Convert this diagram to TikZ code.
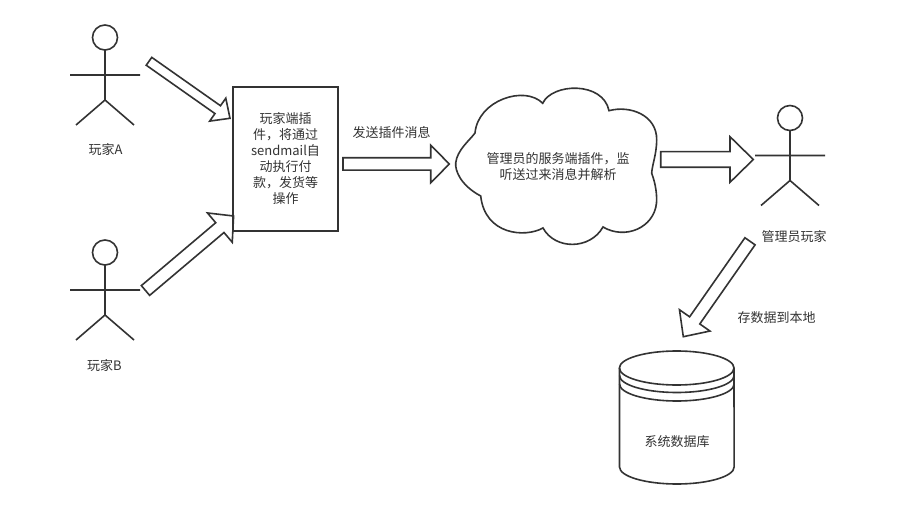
\documentclass[tikz,border=0pt]{standalone}
\usepackage{fontspec}
\usepackage{xcolor}
\setmainfont{Noto Sans CJK SC}
\usepackage{tikz}
\usetikzlibrary{calc}
\definecolor{inkgray}{HTML}{333333}

\tikzset{
sketch/.style={draw=inkgray, line width=1.6pt, line join=miter},
flow/.style={sketch, fill=white},
caption/.style={text=inkgray, font=\fontsize{13}{16}\selectfont, align=center, inner sep=0pt},
actor/.pic={
\draw[sketch] (0,0)circle(12.5);
\draw[sketch] (0,12.5)--(0,62.5)
(-35,37.5)--(35,37.5)
(-29,87.5)--(0,62.5)--(29,87.5);
}
}

\newcommand{\blockarrow}[5]{
\coordinate (neck) at ($(#5)!#3pt!(#4)$);
\draw[flow] ($(#4)!#1pt!90:(#5)$)--($(neck)!#1pt!90:(#5)$)--($(neck)!#2pt!90:(#5)$)
--(#5)--($(neck)!#2pt!-90:(#5)$)--($(neck)!#1pt!-90:(#5)$)--($(#4)!#1pt!-90:(#5)$)--cycle;
}

\begin{document}
\begin{tikzpicture}[x=1pt,y=-1pt]
\useasboundingbox[fill=white] (0,0)rectangle(899,510);

\pic at (105,37.5) {actor};
\node[caption] (playerA) at (105.5,150) {玩家A};
\pic at (105,252.5) {actor};
\node[caption] (playerB) at (104.5,366) {玩家B};
\pic at (790,118) {actor};
\node[caption] (adminPlayer) at (794,237) {管理员玩家};

\node[caption] (sendLabel) at (391.5,133) {发送插件消息};

% cloud
\draw[sketch] (475,133)
.. controls (478,100) and (525,85) .. (542.7,103.3)
.. controls (552,83) and (603,81) .. (609,110.7)
.. controls (630,105) and (657,115) .. (656.7,140)
.. controls (656.5,155) and (652,165) .. (651.7,173.3)
.. controls (656,185) and (657,195) .. (656.5,203)
.. controls (654,228) and (625,240) .. (603,227)
.. controls (590,250) and (555,250) .. (543,228)
.. controls (525,238) and (485,235) .. (480.7,196)
.. controls (460,185) and (455,170) .. (455.7,163)
.. controls (457,150) and (470,140) .. (475,133)--cycle;
\node[caption] (listener) at (558,167) {管理员的服务端插件，监\\听送过来消息并解析};

% database
\draw[sketch] (676.7,368)ellipse(57.3 and 17);
\draw[sketch] (619.5,368)--(619.5,467) arc[start angle=180,end angle=0,x radius=57.3,y radius=17]--(734,368);
\draw[sketch] (619.5,375.5) arc[start angle=180,end angle=0,x radius=57.3,y radius=17];
\draw[sketch] (619.5,384) arc[start angle=180,end angle=0,x radius=57.3,y radius=17];
\node[caption] (database) at (677,441.5) {系统数据库};
\node[caption] (storeLabel) at (776.5,318) {存数据到本地};

\coordinate (tailA) at (149,61.3);
\coordinate (tipA) at (230,118.3);
\coordinate (tailB) at (145.5,290.5);
\coordinate (tipB) at (233.6,216);
\coordinate (tailSend) at (343,164);
\coordinate (tipSend) at (449.3,164);
\coordinate (tailCloud) at (660.7,159.5);
\coordinate (tipCloud) at (753.3,159.5);
\coordinate (tailStore) at (750,241.3);
\coordinate (tipStore) at (683.3,336.7);

\blockarrow{4.8}{14}{15}{tailA}{tipA}
\blockarrow{6.4}{19.2}{18}{tailB}{tipB}
\blockarrow{6.2}{18.8}{18.6}{tailSend}{tipSend}
\blockarrow{7.8}{22.8}{23.3}{tailCloud}{tipCloud}
\blockarrow{6.2}{18.6}{19.9}{tailStore}{tipStore}

\node[sketch, caption, minimum width=105pt, minimum height=144pt] (plugin) at (285.5,159)
{玩家端插\\件，将通过\\sendmail自\\动执行付\\款，发货等\\操作};
\end{tikzpicture}
\end{document}
